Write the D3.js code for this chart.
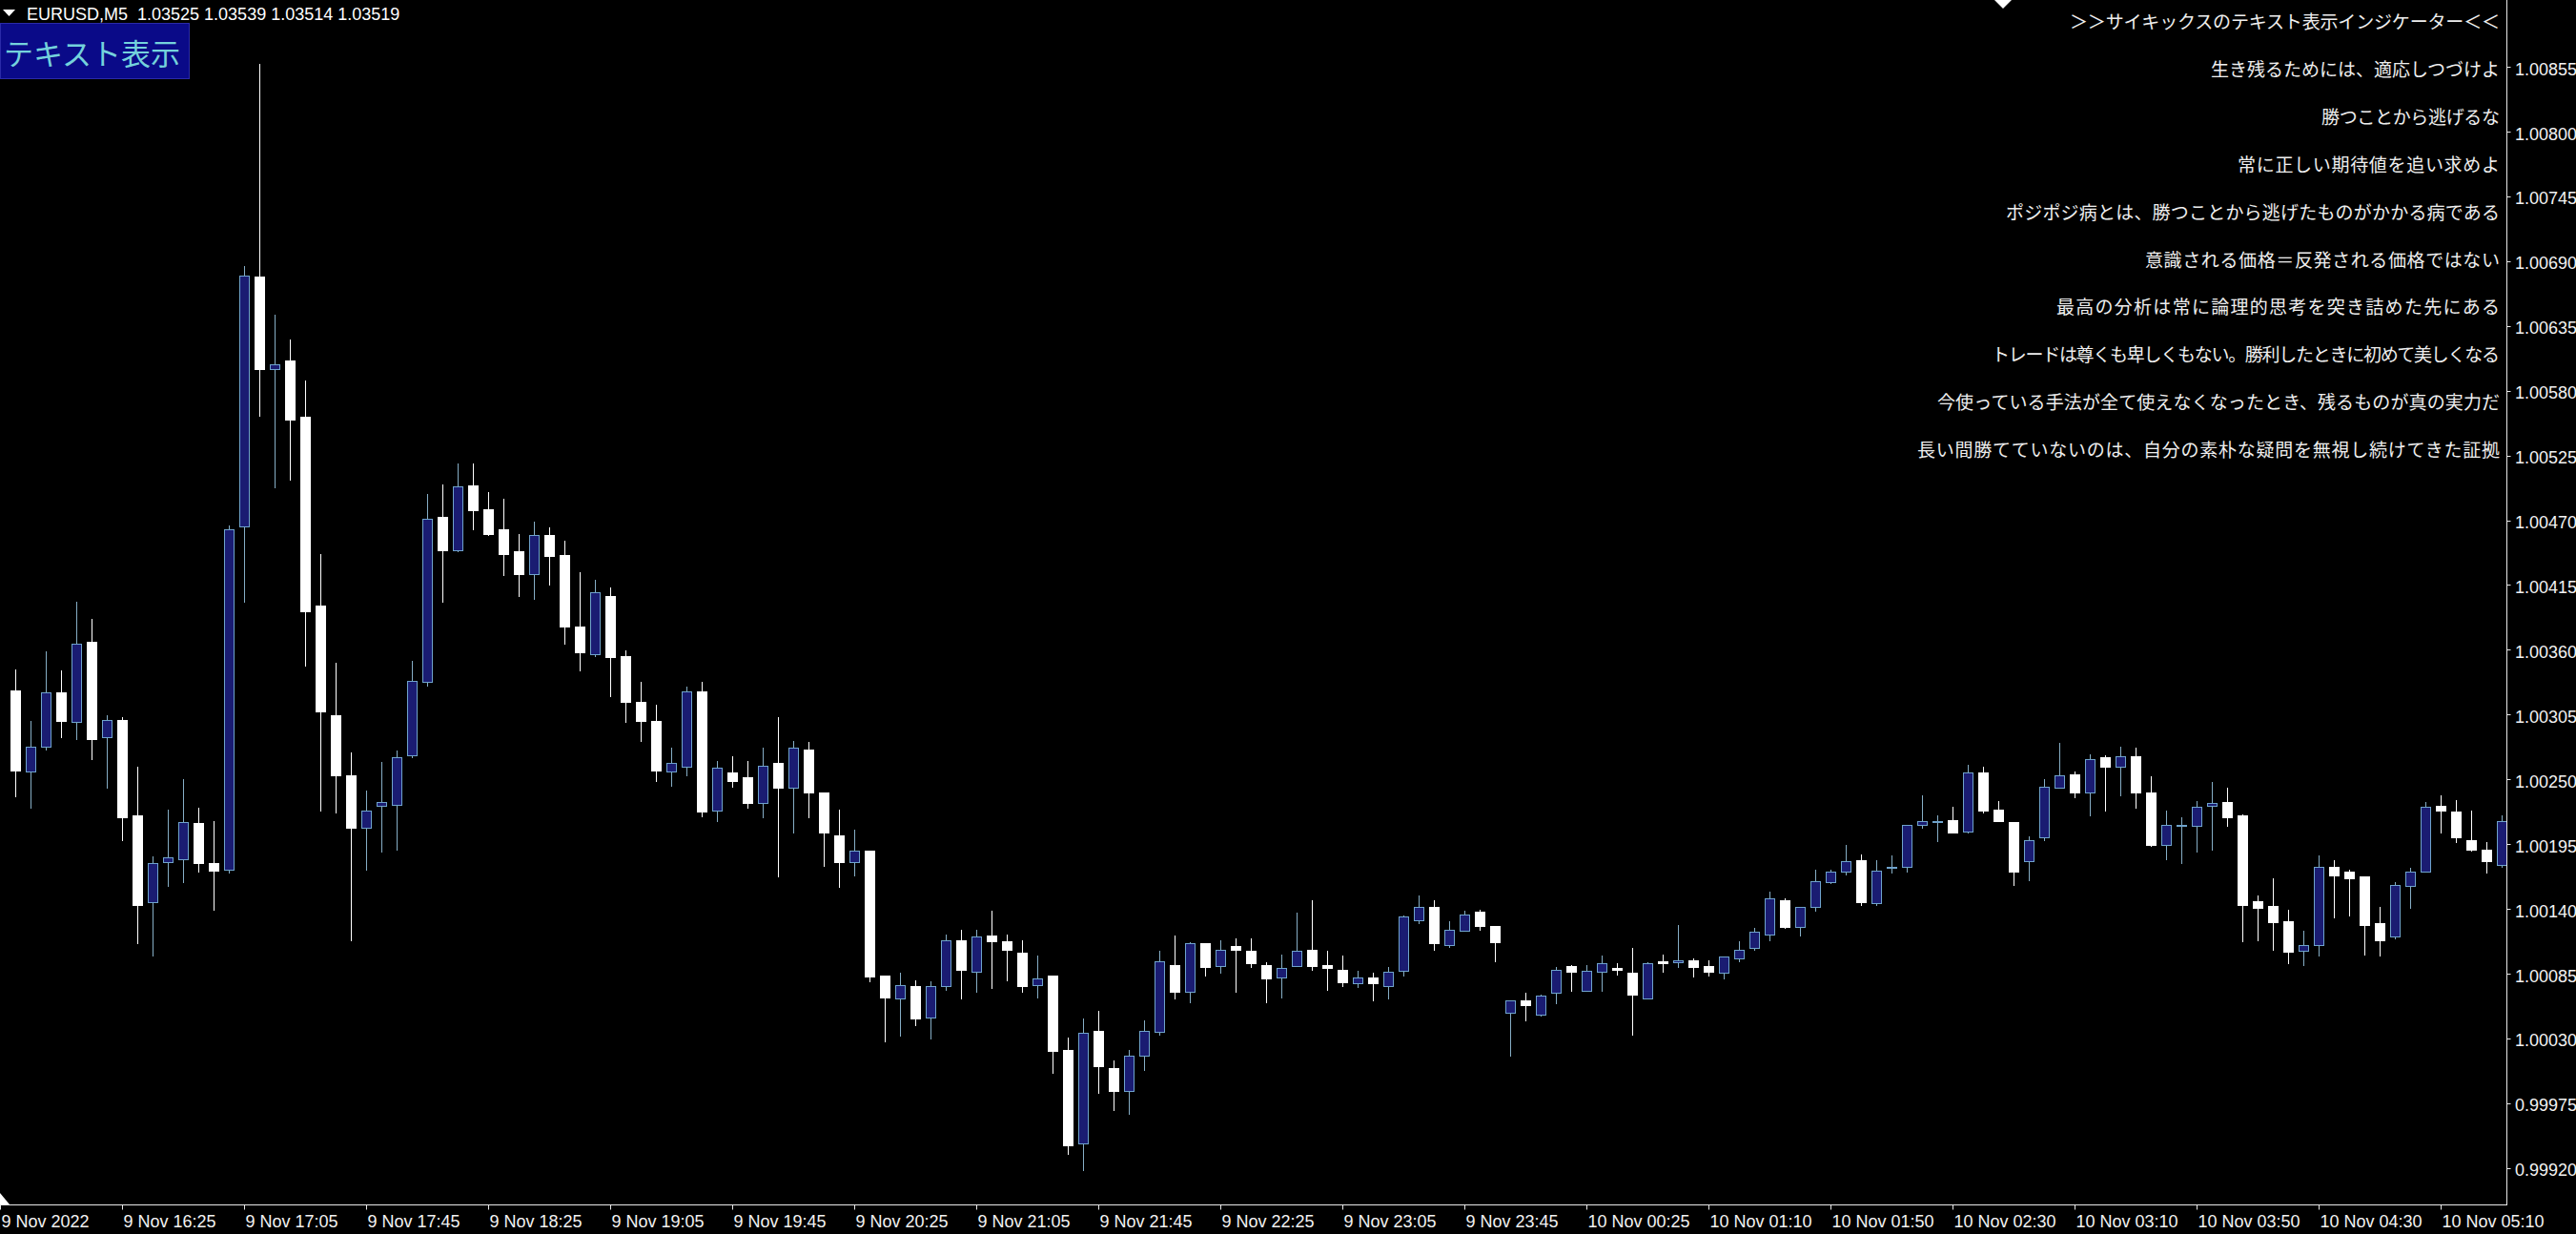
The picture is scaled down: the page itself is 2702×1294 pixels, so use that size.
<!DOCTYPE html>
<html><head><meta charset="utf-8">
<script src="https://cdn.jsdelivr.net/npm/d3@7"></script>
<style>html,body{margin:0;padding:0;background:#000;overflow:hidden;}</style>
</head><body>
<script>
// ---- data (EURUSD M5, bar index 0..163) ----
const opens = [1.00326,1.00257,1.00278,1.00324,1.00299,1.00367,1.00286,1.00301,1.00220,1.00146,1.00180,1.00183,1.00213,1.00179,1.00174,1.00465,1.00677,1.00599,1.00606,1.00558,
1.00398,1.00305,1.00254,1.00209,1.00228,1.00229,1.00271,1.00333,1.00473,1.00445,1.00500,1.00480,1.00463,1.00444,1.00425,1.00458,1.00441,1.00380,1.00357,1.00406,
1.00355,1.00316,1.00300,1.00257,1.00261,1.00325,1.00224,1.00256,1.00252,1.00230,1.00264,1.00243,1.00276,1.00239,1.00203,1.00180,1.00190,1.00084,1.00064,1.00075,
1.00048,1.00075,1.00114,1.00087,1.00118,1.00113,1.00103,1.00076,1.00084,1.00021,0.99941,1.00037,1.00005,0.99986,1.00016,1.00036,1.00093,1.00070,1.00111,1.00092,
1.00109,1.00105,1.00093,1.00082,1.00092,1.00106,1.00093,1.00089,1.00077,1.00082,1.00075,1.00088,1.00131,1.00142,1.00110,1.00122,1.00138,1.00126,1.00052,1.00063,
1.00051,1.00069,1.00092,1.00071,1.00087,1.00090,1.00086,1.00064,1.00096,1.00095,1.00097,1.00092,1.00086,1.00098,1.00107,1.00119,1.00148,1.00125,1.00142,1.00163,
1.00172,1.00182,1.00145,1.00175,1.00176,1.00212,1.00214,1.00216,1.00206,1.00256,1.00225,1.00214,1.00181,1.00201,1.00243,1.00255,1.00239,1.00269,1.00261,1.00270,
1.00239,1.00195,1.00211,1.00211,1.00228,1.00231,1.00220,1.00147,1.00143,1.00130,1.00105,1.00110,1.00176,1.00172,1.00168,1.00128,1.00117,1.00160,1.00172,1.00228,
1.00223,1.00199,1.00191,1.00178];
const highs = [1.00344,1.00300,1.00359,1.00343,1.00401,1.00387,1.00305,1.00303,1.00261,1.00185,1.00225,1.00251,1.00226,1.00215,1.00466,1.00686,1.00858,1.00645,1.00624,1.00589,
1.00442,1.00349,1.00273,1.00241,1.00265,1.00275,1.00351,1.00493,1.00501,1.00519,1.00519,1.00494,1.00489,1.00459,1.00469,1.00464,1.00453,1.00426,1.00420,1.00413,
1.00360,1.00333,1.00314,1.00277,1.00329,1.00333,1.00266,1.00270,1.00266,1.00277,1.00303,1.00283,1.00282,1.00239,1.00225,1.00208,1.00190,1.00084,1.00086,1.00080,
1.00079,1.00119,1.00123,1.00123,1.00139,1.00119,1.00114,1.00101,1.00084,1.00031,1.00047,1.00054,1.00012,1.00021,1.00046,1.00105,1.00118,1.00112,1.00111,1.00114,
1.00115,1.00115,1.00095,1.00102,1.00137,1.00148,1.00105,1.00101,1.00088,1.00086,1.00091,1.00135,1.00152,1.00148,1.00130,1.00139,1.00140,1.00126,1.00063,1.00069,
1.00068,1.00091,1.00093,1.00093,1.00101,1.00094,1.00107,1.00095,1.00102,1.00127,1.00098,1.00097,1.00100,1.00113,1.00124,1.00155,1.00149,1.00142,1.00174,1.00174,
1.00195,1.00187,1.00182,1.00186,1.00212,1.00237,1.00220,1.00227,1.00263,1.00261,1.00232,1.00214,1.00202,1.00251,1.00281,1.00257,1.00272,1.00271,1.00278,1.00277,
1.00253,1.00224,1.00218,1.00232,1.00248,1.00243,1.00221,1.00152,1.00166,1.00140,1.00122,1.00186,1.00182,1.00174,1.00168,1.00142,1.00163,1.00175,1.00231,1.00237,
1.00233,1.00224,1.00197,1.00220];
const lows = [1.00236,1.00226,1.00276,1.00286,1.00285,1.00268,1.00243,1.00199,1.00111,1.00101,1.00160,1.00163,1.00172,1.00140,1.00171,1.00401,1.00559,1.00498,1.00505,1.00347,
1.00224,1.00222,1.00114,1.00174,1.00189,1.00191,1.00269,1.00330,1.00401,1.00444,1.00463,1.00458,1.00424,1.00406,1.00404,1.00416,1.00366,1.00343,1.00355,1.00321,
1.00299,1.00283,1.00249,1.00245,1.00254,1.00219,1.00215,1.00244,1.00226,1.00218,1.00168,1.00205,1.00218,1.00177,1.00159,1.00169,1.00079,1.00028,1.00033,1.00042,
1.00030,1.00072,1.00064,1.00070,1.00073,1.00080,1.00070,1.00065,1.00001,0.99932,0.99919,0.99984,0.99970,0.99966,1.00004,1.00034,1.00064,1.00061,1.00084,1.00086,
1.00070,1.00091,1.00061,1.00065,1.00092,1.00089,1.00072,1.00075,1.00074,1.00063,1.00064,1.00084,1.00128,1.00106,1.00108,1.00122,1.00123,1.00096,1.00016,1.00046,
1.00050,1.00060,1.00071,1.00071,1.00071,1.00085,1.00034,1.00064,1.00087,1.00091,1.00083,1.00084,1.00081,1.00096,1.00106,1.00114,1.00124,1.00118,1.00139,1.00162,
1.00170,1.00144,1.00144,1.00171,1.00172,1.00209,1.00198,1.00205,1.00205,1.00222,1.00215,1.00161,1.00165,1.00199,1.00243,1.00235,1.00220,1.00224,1.00237,1.00226,
1.00194,1.00183,1.00179,1.00189,1.00191,1.00211,1.00113,1.00114,1.00106,1.00094,1.00093,1.00101,1.00133,1.00135,1.00102,1.00101,1.00115,1.00141,1.00172,1.00205,
1.00197,1.00190,1.00171,1.00176];
const closes = [1.00258,1.00278,1.00324,1.00300,1.00366,1.00285,1.00301,1.00218,1.00144,1.00179,1.00184,1.00214,1.00179,1.00173,1.00463,1.00678,1.00599,1.00603,1.00556,1.00393,
1.00308,1.00254,1.00209,1.00224,1.00231,1.00269,1.00334,1.00472,1.00445,1.00499,1.00479,1.00459,1.00442,1.00425,1.00458,1.00440,1.00380,1.00358,1.00409,1.00354,
1.00316,1.00300,1.00258,1.00264,1.00325,1.00223,1.00260,1.00249,1.00230,1.00262,1.00243,1.00277,1.00239,1.00205,1.00180,1.00190,1.00083,1.00065,1.00076,1.00047,
1.00075,1.00114,1.00089,1.00117,1.00113,1.00106,1.00075,1.00081,1.00020,0.99940,1.00035,1.00007,0.99986,1.00016,1.00037,1.00096,1.00070,1.00111,1.00091,1.00106,
1.00106,1.00094,1.00081,1.00090,1.00105,1.00092,1.00090,1.00078,1.00082,1.00077,1.00087,1.00134,1.00142,1.00111,1.00123,1.00136,1.00126,1.00112,1.00063,1.00059,
1.00067,1.00089,1.00087,1.00088,1.00094,1.00089,1.00068,1.00094,1.00094,1.00097,1.00091,1.00087,1.00100,1.00106,1.00121,1.00149,1.00125,1.00142,1.00164,1.00172,
1.00181,1.00146,1.00173,1.00176,1.00212,1.00215,1.00215,1.00205,1.00256,1.00224,1.00215,1.00172,1.00199,1.00244,1.00254,1.00239,1.00268,1.00261,1.00270,1.00239,
1.00195,1.00212,1.00212,1.00227,1.00230,1.00218,1.00144,1.00141,1.00129,1.00104,1.00110,1.00176,1.00169,1.00166,1.00127,1.00114,1.00161,1.00172,1.00227,1.00224,
1.00201,1.00191,1.00181,1.00215];

const priceTicks = [0.99920,0.99975,1.00030,1.00085,1.00140,1.00195,1.00250,1.00305,1.00360,1.00415,1.00470,1.00525,1.00580,1.00635,1.00690,1.00745,1.00800,1.00855];
const timeLabels = ["9 Nov 2022","9 Nov 16:25","9 Nov 17:05","9 Nov 17:45","9 Nov 18:25","9 Nov 19:05","9 Nov 19:45","9 Nov 20:25","9 Nov 21:05","9 Nov 21:45","9 Nov 22:25","9 Nov 23:05","9 Nov 23:45","10 Nov 00:25","10 Nov 01:10","10 Nov 01:50","10 Nov 02:30","10 Nov 03:10","10 Nov 03:50","10 Nov 04:30","10 Nov 05:10"];
const headerText = "EURUSD,M5  1.03525 1.03539 1.03514 1.03519";
const buttonText = "テキスト表示";
const messages = ["＞＞サイキックスのテキスト表示インジケーター＜＜","生き残るためには、適応しつづけよ","勝つことから逃げるな","常に正しい期待値を追い求めよ","ポジポジ病とは、勝つことから逃げたものがかかる病である","意識される価格＝反発される価格ではない","最高の分析は常に論理的思考を突き詰めた先にある","トレードは尊くも卑しくもない。勝利したときに初めて美しくなる","今使っている手法が全て使えなくなったとき、残るものが真の実力だ","長い間勝てていないのは、自分の素朴な疑問を無視し続けてきた証拠"];
// rendered line widths (px) of the message lines in the source
const messageWidths = [451, 303, 187, 275, 518, 372, 465, 533, 590, 611];

// ---- layout ----
const W = 2702, H = 1294;
const axisX = 2629.5, axisY = 1263.5;
const svg = d3.select("body").append("svg").attr("width", W).attr("height", H)
  .style("display","block").style("background","#000");
svg.append("rect").attr("width", W).attr("height", H).attr("fill", "#000");

const x = d3.scaleLinear().domain([0, opens.length - 1]).range([16.5, 16.5 + 16 * (opens.length - 1)]);
const y = d3.scaleLinear().domain([0.99920, 1.00855]).range([1225.3, 70.6]);

const bars = opens.map((o, i) => ({i, o, h: highs[i], l: lows[i], c: closes[i], up: closes[i] >= o}));

const BULL_FILL = "#1a1c72", BULL_LINE = "#6fa3cc", BULL_WICK = "#86aec6", BEAR = "#ffffff";
const crisp = v => Math.round(v - 0.5) + 0.5;

const g = svg.append("g");
g.selectAll("line.wick").data(bars).join("line").attr("class","wick")
  .attr("x1", d => x(d.i)).attr("x2", d => x(d.i))
  .attr("y1", d => Math.round(y(d.h))).attr("y2", d => Math.round(y(d.l)) + 1)
  .attr("stroke", d => d.up ? BULL_WICK : BEAR).attr("stroke-width", 1);
g.selectAll("rect.body").data(bars).join("rect").attr("class","body")
  .each(function(d){
    const top = Math.round(y(Math.max(d.o, d.c)));
    const bot = Math.round(y(Math.min(d.o, d.c)));
    const sel = d3.select(this);
    if (d.up) {
      sel.attr("x", x(d.i) - 5).attr("width", 10)
        .attr("y", top + 0.5).attr("height", Math.max(1, bot - top))
        .attr("fill", BULL_FILL).attr("stroke", BULL_LINE).attr("stroke-width", 1);
    } else {
      sel.attr("x", x(d.i) - 5.5).attr("width", 11)
        .attr("y", top).attr("height", Math.max(1, bot - top + 1))
        .attr("fill", BEAR);
    }
  });

// axes lines
svg.append("line").attr("x1", axisX).attr("x2", axisX).attr("y1", 0).attr("y2", axisY + 0.5)
  .attr("stroke", "#e8e8e8").attr("stroke-width", 1);
svg.append("line").attr("x1", 0).attr("x2", axisX + 0.5).attr("y1", axisY).attr("y2", axisY)
  .attr("stroke", "#e8e8e8").attr("stroke-width", 1);

// price axis
const pa = svg.append("g");
pa.selectAll("line").data(priceTicks).join("line")
  .attr("x1", axisX).attr("x2", axisX + 4)
  .attr("y1", d => crisp(y(d))).attr("y2", d => crisp(y(d)))
  .attr("stroke", "#e8e8e8");
pa.selectAll("text").data(priceTicks).join("text")
  .attr("x", 2638).attr("y", d => y(d) + 8)
  .attr("fill", "#f2f2f2").attr("font-family", "'Liberation Sans', Arial, sans-serif")
  .attr("font-size", 18).text(d => d3.format(".5f")(d));

// time axis
const ta = svg.append("g");
const tickIdx = timeLabels.map((t, k) => 8 * k - 1);
ta.selectAll("line").data(tickIdx).join("line")
  .attr("x1", d => crisp(x(d))).attr("x2", d => crisp(x(d)))
  .attr("y1", axisY).attr("y2", axisY + 5).attr("stroke", "#e8e8e8");
ta.selectAll("text").data(timeLabels).join("text")
  .attr("x", (d, k) => x(tickIdx[k]) + 1).attr("y", 1287)
  .attr("fill", "#f2f2f2").attr("font-family", "'Liberation Sans', Arial, sans-serif")
  .attr("font-size", 18).text(d => d);

// small markers
svg.append("polygon").attr("points", "0,1251 0,1263 10,1263").attr("fill", "#fff");
svg.append("polygon").attr("points", "2092,0 2110,0 2101,9").attr("fill", "#fff");

// header
svg.append("polygon").attr("points", "3,10 16,10 9.5,17").attr("fill", "#fff");
svg.append("text").attr("x", 28).attr("y", 21).attr("fill", "#fff")
  .attr("font-family", "'Liberation Sans', Arial, sans-serif").attr("font-size", 18)
  .attr("xml:space", "preserve").style("white-space", "pre").text(headerText);

// button
svg.append("rect").attr("x", 0.5).attr("y", 24.5).attr("width", 198).attr("height", 58)
  .attr("fill", "#0a0a88").attr("stroke", "#2a2aa8");
svg.append("text").attr("x", 4).attr("y", 54).attr("dominant-baseline", "central")
  .attr("fill", "#74d2dc").attr("font-family", "'Noto Sans CJK JP', sans-serif")
  .attr("font-size", 31).text(buttonText);

// message lines
svg.append("g").selectAll("text").data(messages).join("text")
  .attr("x", (d, k) => 2622 - messageWidths[k]).attr("y", (d, k) => 21.5 + 49.9 * k)
  .attr("textLength", (d, k) => messageWidths[k]).attr("lengthAdjust", "spacing")
  .attr("dominant-baseline", "central")
  .attr("fill", "#eeeeee").attr("font-family", "'Noto Sans CJK JP', sans-serif")
  .attr("font-size", 19).text(d => d);
</script>
</body></html>
